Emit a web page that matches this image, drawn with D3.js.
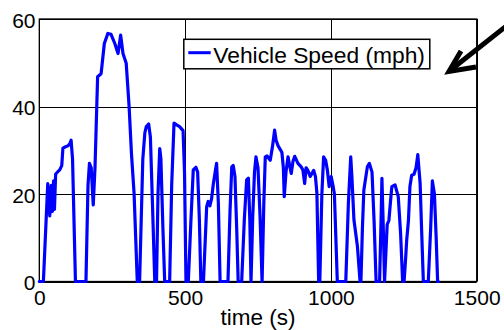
<!DOCTYPE html>
<html>
<head>
<meta charset="utf-8">
<script src="https://cdn.jsdelivr.net/npm/d3@7"></script>
<style>
  html, body { margin: 0; padding: 0; background: #fff; }
  svg { display: block; font-family: "Liberation Sans", Arial, sans-serif; }
</style>
</head>
<body>
<svg id="chart" width="504" height="330"></svg>
<script>
// Drive cycle: elapsed time (s) and vehicle speed (mph)
const timeSec = [
  0, 14, 29, 36, 41, 45, 49, 52, 56, 62, 70, 77, 81, 90, 98, 105, 109, 114, 124,
  160, 167, 172, 178, 185, 191, 200, 212, 223, 235, 246, 259, 270, 279, 287, 298,
  308, 316, 325, 336, 344, 355, 362, 367, 375, 381, 388, 396, 402, 407, 413, 417,
  424, 430, 447, 454, 462, 471, 481, 493, 498, 503, 511, 520, 528, 537, 543, 549,
  554, 563, 574, 579, 585, 591, 597, 603, 608, 614, 620, 647, 654, 660, 665, 671,
  677, 682, 694, 703, 711, 717, 722, 726, 732, 738, 743, 750, 757, 764, 770, 775,
  781, 792, 800, 807, 812, 819, 827, 832, 837, 840, 846, 853, 860, 864, 870, 876,
  887, 898, 904, 910, 915, 921, 929, 941, 947, 952, 955, 958, 962, 969, 975, 982,
  988, 994, 1001, 1007, 1012, 1017, 1022, 1051, 1060, 1068, 1072, 1079, 1091, 1100,
  1103, 1108, 1113, 1125, 1132, 1141, 1148, 1155, 1167, 1172, 1175, 1179, 1184,
  1193, 1199, 1204, 1209, 1220, 1231, 1239, 1246, 1251, 1256, 1260, 1266, 1271,
  1277, 1285, 1292, 1298, 1306, 1311, 1317, 1334, 1342, 1348, 1355, 1361, 1366, 1369
];
const speedMph = [
  0, 0, 22.4, 15, 22, 16, 23, 16.5, 24.5, 25, 25.5, 26.5, 30.5, 30.8, 31, 31.5, 32.3, 28, 0,
  0, 22, 27, 26, 17.5, 26, 46.8, 47.5, 54.4, 56.7, 56.5, 54.4, 52.1, 56.3, 52.1, 49.9,
  40, 29.3, 20.2, 0, 0, 28, 34, 35.4, 36, 33, 18, 0, 0, 20, 30.4, 28,
  12, 0, 0, 22, 36.2, 35.8, 35.4, 34.5, 25, 0, 0, 14, 25.5, 26.1, 25, 14,
  0, 0, 17.1, 18.3, 17.3, 19, 22.4, 25, 27, 18, 0, 0, 16, 26.2, 26.5, 24,
  12, 0, 0, 14, 23.2, 23.6, 14, 0, 15, 25, 28.5, 26, 15, 0, 18, 28.5,
  28.7, 27.7, 31, 34.6, 32.3, 31, 30.1, 29.5, 26, 19.4, 25, 28.5, 26, 24.7, 27.5, 28.6,
  27, 26.2, 25.5, 22.4, 26, 25.4, 24, 25.4, 24, 20.2, 10, 0, 0, 20, 28.5, 27.7,
  25.4, 21.7, 24, 22, 20, 10, 0, 0, 18, 28.5, 24, 14.1, 8, 0,
  0, 12, 20.9, 26.2, 27, 25, 14, 0, 0, 14, 23.6, 14, 0,
  13, 14, 18, 21.7, 22.1, 19.4, 11, 0, 0, 5, 9.5, 14, 21.7,
  24.3, 24.5, 26, 29, 22.4, 12, 0, 0, 12, 23, 20, 10, 0, 0
];
const xTicks = [0, 500, 1000, 1500];
const yTicks = [0, 20, 40, 60];
const legendLabel = "Vehicle Speed (mph)";
const xLabel = "time (s)";

const svg = d3.select("#chart");
const plot = { left: 39.3, right: 476.7, top: 19, bottom: 281.5 };

const x = d3.scaleLinear().domain([0, 1500]).range([plot.left, plot.right]);
const y = d3.scaleLinear().domain([0, 60]).range([plot.bottom, plot.top]);

// grid lines
const grid = svg.append("g").attr("stroke", "#000").attr("stroke-width", 1);
grid.selectAll("line.gx").data(xTicks).join("line")
  .attr("x1", d => Math.round(x(d)) + 0.5).attr("x2", d => Math.round(x(d)) + 0.5)
  .attr("y1", plot.top).attr("y2", plot.bottom);
grid.selectAll("line.gy").data(yTicks).join("line")
  .attr("y1", d => Math.round(y(d)) + 0.5).attr("y2", d => Math.round(y(d)) + 0.5)
  .attr("x1", plot.left).attr("x2", plot.right);

// axes (tick labels)
const fontSize = 21;
const xAxis = svg.append("g")
  .attr("transform", `translate(0,${plot.bottom})`)
  .call(d3.axisBottom(x).tickValues(xTicks).tickSize(0).tickPadding(8.5).tickFormat(d3.format("d")));
const yAxis = svg.append("g")
  .attr("transform", `translate(${plot.left},0)`)
  .call(d3.axisLeft(y).tickValues(yTicks).tickSize(0).tickPadding(3.8).tickFormat(d3.format("d")));
[xAxis, yAxis].forEach(g => {
  g.select(".domain").remove();
  g.selectAll("text").attr("font-size", fontSize).attr("fill", "#000")
    .attr("font-family", "Liberation Sans, Arial, sans-serif");
});
yAxis.selectAll("text").attr("dy", "0.4em");

// plot box
svg.append("rect")
  .attr("x", plot.left).attr("y", plot.top)
  .attr("width", plot.right - plot.left).attr("height", plot.bottom - plot.top)
  .attr("fill", "none").attr("stroke", "#000").attr("stroke-width", 1.3);

// speed trace
const line = d3.line().x((d, i) => x(timeSec[i])).y(d => y(d));
svg.append("path")
  .datum(speedMph)
  .attr("d", line)
  .attr("fill", "none")
  .attr("stroke", "#0000ff")
  .attr("stroke-width", 3.2)
  .attr("stroke-linejoin", "round")
  .attr("stroke-linecap", "round");

// x label
svg.append("text")
  .attr("x", (plot.left + plot.right) / 2).attr("y", 325)
  .attr("text-anchor", "middle").attr("font-size", 22.5)
  .text(xLabel);

// legend
const lg = svg.append("g");
lg.append("rect")
  .attr("x", 183.8).attr("y", 39.3).attr("width", 246).attr("height", 29.5)
  .attr("fill", "#fff").attr("stroke", "#000").attr("stroke-width", 1.5);
lg.append("line")
  .attr("x1", 188.3).attr("x2", 210.7).attr("y1", 52.7).attr("y2", 52.7)
  .attr("stroke", "#0000ff").attr("stroke-width", 3);
lg.append("text")
  .attr("x", 213.3).attr("y", 62.5).attr("font-size", 22.8)
  .text(legendLabel);

// pointer arrow
const arrow = svg.append("g").attr("stroke", "#000").attr("fill", "none")
  .attr("stroke-width", 5);
arrow.append("line").attr("x1", 450).attr("y1", 70.5).attr("x2", 512).attr("y2", 21.5);
arrow.append("polyline")
  .attr("points", "461,51 449,71.5 476,67")
  .attr("stroke-linejoin", "miter").attr("stroke-miterlimit", 10);
</script>
</body>
</html>
